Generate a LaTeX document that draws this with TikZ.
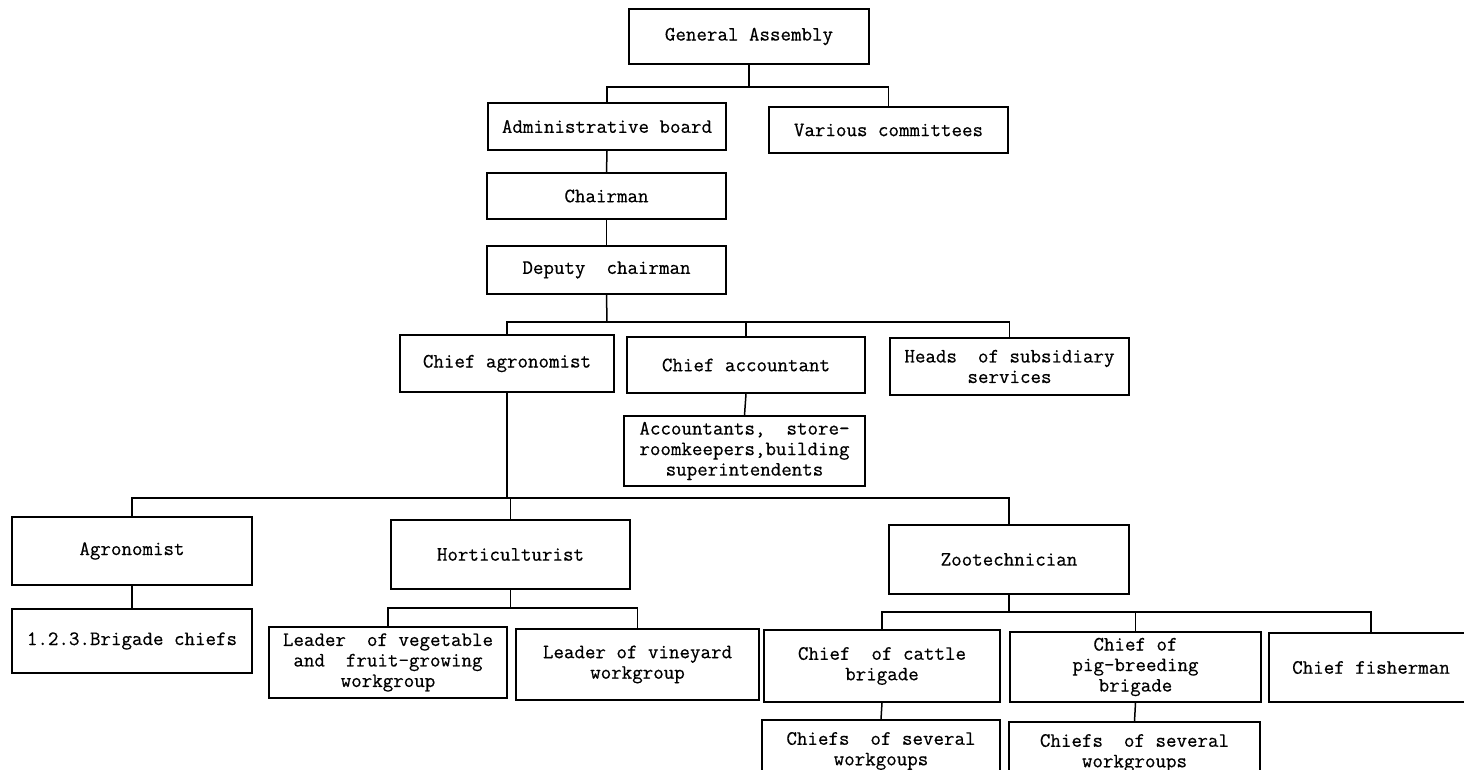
\documentclass[tikz,border=0pt]{standalone}
\usepackage{fontspec}
\setmonofont[FakeBold=0.5]{Latin Modern Mono}
\begin{document}
\begin{tikzpicture}[x=1pt,y=-1pt,
  box/.style={draw, line width=1.6pt, inner sep=0pt, align=center,
    font=\ttfamily\fontsize{20.4}{20.5}\selectfont},
  link/.style={line width=1.5pt}]
\useasboundingbox (0,0) rectangle (1464,770);
\clip (0,0) rectangle (1464,770);
% level 0-2
\node[box, minimum width=240, minimum height=55] (ga) at (749,36.5) {General Assembly};
\node[box, minimum width=238, minimum height=47] (admin) at (607,126.5) {Administrative board};
\node[box, minimum width=239, minimum height=46] (various) at (888.5,130) {Various committees};
\node[box, minimum width=239, minimum height=46] (chair) at (606.5,196) {Chairman};
\node[box, minimum width=239, minimum height=48] (deputy) at (606.5,270) {Deputy\ \ chairman};
% level 3
\node[box, minimum width=214, minimum height=57] (chagr) at (507,363.5) {Chief agronomist};
\node[box, minimum width=238, minimum height=56] (chacc) at (746,365) {Chief accountant};
\node[box, minimum width=239, minimum height=57] (heads) at (1009.5,366.5) {Heads\ \ of subsidiary\\services};
\node[box, minimum width=241, minimum height=70] (accts) at (744.5,451) {Accountants,\ \ store-\\roomkeepers,building\\superintendents};
% level 4
\node[box, minimum width=240, minimum height=68] (agro) at (132,551) {Agronomist};
\node[box, minimum width=239, minimum height=69] (hort) at (510.5,554.5) {Horticulturist};
\node[box, minimum width=240, minimum height=69] (zoo) at (1009,559.5) {Zootechnician};
% level 5
\node[box, minimum width=240, minimum height=64] (brig) at (132,641) {1.2.3.Brigade chiefs};
\node[box, minimum width=238, minimum height=71] (veg) at (388,662.5) {Leader\ \ of vegetable\\and\ \ fruit-growing\\workgroup};
\node[box, minimum width=243, minimum height=71] (vine) at (637.5,664.5) {Leader of vineyard\\workgroup};
\node[box, minimum width=236, minimum height=72] (cattle) at (882,666) {Chief\ \ of cattle\\brigade};
\node[box, minimum width=251, minimum height=70] (pig) at (1135.5,667) {Chief of\\pig-breeding\\brigade};
\node[box, minimum width=204, minimum height=69] (fish) at (1371,667.5) {Chief fisherman};
% level 6
\node[box, minimum width=238, minimum height=62] (cwg) at (881,751) {Chiefs\ \ of several\\workgoups};
\node[box, minimum width=251, minimum height=62] (pwg) at (1134.5,753) {Chiefs\ \ of several\\workgroups};
% junctions
\coordinate (j1) at (749,87);
\coordinate (j2) at (607,322);
\coordinate (j3) at (507,498);
\coordinate (j4) at (510.5,608);
\coordinate (j5) at (1009,612);
% connectors
\draw[link] (ga.south) -- (j1);
\draw[link] (admin.north) |- (j1) -| (various.north);
\draw[link] (admin.south) -- (chair.north);
\draw[link] (chair.south) -- (deputy.north);
\draw[link] (deputy.south) -- (j2);
\draw[link] (chagr.north) |- (j2) -| (heads.north);
\draw[link] (chacc.north) -- (chacc.north |- j2);
\draw[link] (chacc.south) -- (accts.north);
\draw[link] (chagr.south) -- (j3);
\draw[link] (agro.north) |- (j3) -| (zoo.north);
\draw[link] (hort.north) -- (hort.north |- j3);
\draw[link] (agro.south) -- (brig.north);
\draw[link] (hort.south) -- (j4);
\draw[link] (veg.north) |- (j4) -| (vine.north);
\draw[link] (zoo.south) -- (j5);
\draw[link] (cattle.north) |- (j5) -| (fish.north);
\draw[link] (pig.north) -- (pig.north |- j5);
\draw[link] (cattle.south) -- (cwg.north);
\draw[link] (pig.south) -- (pwg.north);
\end{tikzpicture}
\end{document}
